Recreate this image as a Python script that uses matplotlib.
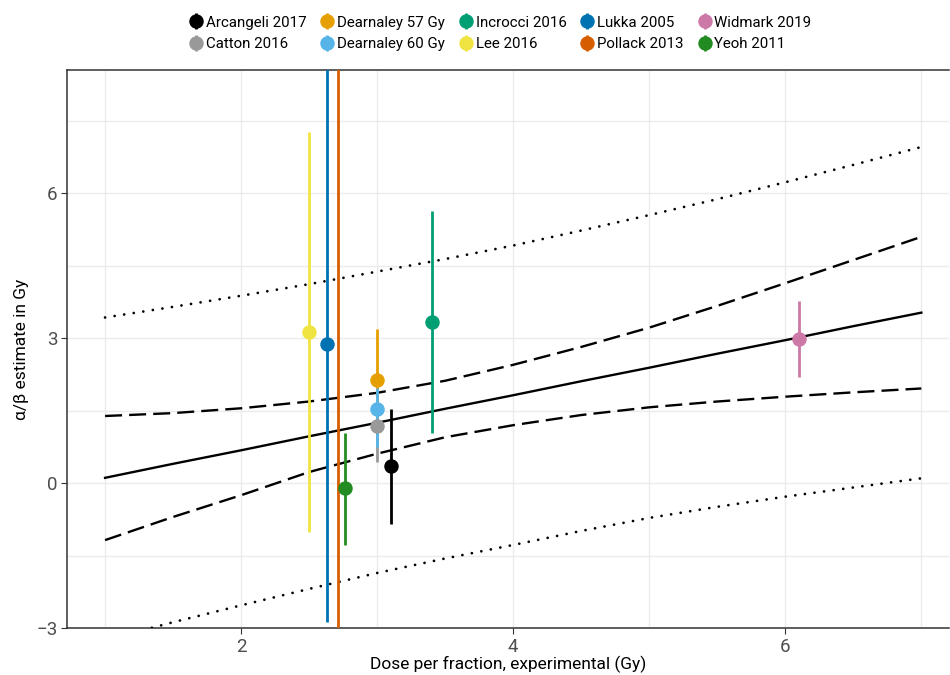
import numpy as np
import matplotlib
matplotlib.use("Agg")
from matplotlib import pyplot as plt
from matplotlib.lines import Line2D
from matplotlib.ticker import MultipleLocator

plt.rcParams['font.family'] = ['Roboto', 'DejaVu Sans']

# studies: dose per fraction, alpha/beta estimate and interval
studies = ['Arcangeli 2017', 'Catton 2016', 'Dearnaley 57 Gy', 'Dearnaley 60 Gy',
           'Incrocci 2016', 'Lee 2016', 'Lukka 2005', 'Pollack 2013',
           'Widmark 2019', 'Yeoh 2011']
dose = [3.1, 3.0, 3.0, 3.0, 3.4, 2.5, 2.63, 2.71, 6.1, 2.76]
est = [0.35, 1.18, 2.13, 1.53, 3.33, 3.12, 2.88, 10.0, 2.98, -0.10]
lo = [-0.85, 0.43, 1.10, 0.75, 1.03, -1.01, -2.88, -6.0, 2.19, -1.28]
hi = [1.53, 1.90, 3.20, 1.98, 5.63, 7.28, 12.0, 25.0, 3.77, 1.03]
colors = ['#000000', '#999999', '#E69F00', '#56B4E9', '#009E73',
          '#F0E442', '#0072B2', '#D55E00', '#CC79A7', '#228B22']

# regression line with confidence (dashed) and prediction (dotted) bands
xg = [1, 1.5, 2, 2.5, 3, 3.5, 4, 4.5, 5, 5.5, 6, 6.5, 7]
fit = [0.11, 0.40, 0.68, 0.97, 1.25, 1.54, 1.82, 2.11, 2.39, 2.68, 2.96, 3.25, 3.53]
ci_hi = [1.39, 1.45, 1.55, 1.69, 1.87, 2.12, 2.45, 2.82, 3.22, 3.67, 4.14, 4.62, 5.10]
ci_lo = [-1.18, -0.70, -0.25, 0.23, 0.61, 0.95, 1.20, 1.41, 1.57, 1.69, 1.79, 1.88, 1.96]
pi_hi = [3.43, 3.65, 3.88, 4.12, 4.38, 4.64, 4.92, 5.23, 5.55, 5.88, 6.23, 6.59, 6.96]
pi_lo = [-3.25, -2.88, -2.53, -2.19, -1.86, -1.56, -1.28, -0.99, -0.72, -0.49, -0.28, -0.09, 0.10]

fig = plt.figure(figsize=(9.5, 6.75), dpi=100)
ax = fig.add_axes([0.0705, 0.0696, 0.928, 0.8264])

ax.plot(xg, fit, color='black', lw=1.7, zorder=3)
for band in [ci_hi, ci_lo]:
    ax.plot(xg, band, color='black', lw=1.7, ls=(0, (7.2, 3.0)), zorder=3)
for band in [pi_hi, pi_lo]:
    ax.plot(xg, band, color='black', lw=2.0, ls=(0, (0.01, 3.47)),
            dash_capstyle='round', zorder=3)

for i in range(len(studies)):
    ax.vlines(dose[i], lo[i], hi[i], color=colors[i], lw=2.0, zorder=4)
for i in range(len(studies)):
    ax.plot(dose[i], est[i], 'o', color=colors[i], ms=9.4, zorder=5)

ax.set_xlim(0.72, 7.2)
ax.set_ylim(-3.0, 8.55)
ax.xaxis.set_major_locator(MultipleLocator(2))
ax.xaxis.set_minor_locator(MultipleLocator(1))
ax.yaxis.set_minor_locator(MultipleLocator(1.5))
ax.set_yticks([-3, 0, 3, 6])
ax.set_yticklabels(['\u22123', '0', '3', '6'])
ax.grid(which='both', color='#ebebeb', lw=1.0)
ax.set_axisbelow(True)
ax.tick_params(which='major', length=4, color='#333333', labelcolor='#4d4d4d',
               labelsize=13.5, pad=3)
ax.tick_params(which='minor', length=0)
for s in ['left', 'top', 'bottom']:
    ax.spines[s].set_color('#333333')
    ax.spines[s].set_linewidth(1.1)
ax.spines['right'].set_visible(False)

ax.set_xlabel('Dose per fraction, experimental (Gy)', fontsize=12.5, labelpad=0)
ax.set_ylabel('\u03b1/\u03b2 estimate in Gy', fontsize=12.5, labelpad=5)

handles = []
for c in colors:
    h1 = Line2D([], [], marker='|', color=c, ms=12, mew=2.0, ls='none')
    h2 = Line2D([], [], marker='o', color=c, ms=9.4, ls='none')
    handles.append((h1, h2))
fig.legend(handles, studies, loc='upper center', bbox_to_anchor=(0.527, 0.997),
           ncol=5, frameon=False, fontsize=10.8, handlelength=0.8,
           handletextpad=0.25, columnspacing=1.0, labelspacing=0.5)

fig.savefig('out.png', dpi=100)
